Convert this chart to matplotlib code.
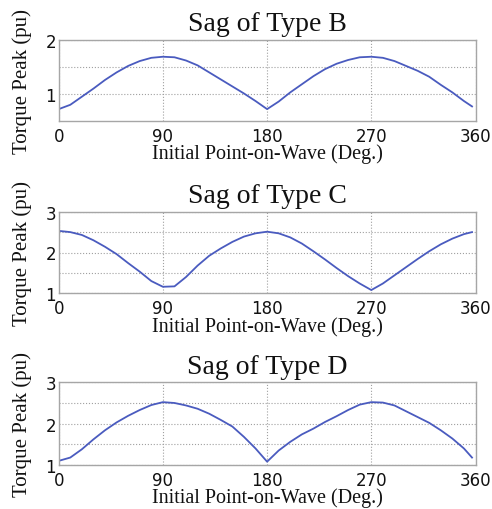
import matplotlib.pyplot as plt

# initial point-on-wave angle (deg) and peak torque (pu) for each sag type
deg = [0, 10, 20, 30, 40, 50, 60, 70, 80, 90, 100, 110, 120, 130, 140, 150, 160, 170, 180,
       190, 200, 210, 220, 230, 240, 250, 260, 270, 280, 290, 300, 310, 320, 330, 340, 350, 357]

peak_b = [0.72, 0.80, 0.95, 1.10, 1.26, 1.40, 1.52, 1.61, 1.67, 1.69, 1.68, 1.62, 1.53, 1.40,
          1.27, 1.14, 1.01, 0.87, 0.72, 0.86, 1.03, 1.18, 1.33, 1.46, 1.56, 1.63, 1.68, 1.69,
          1.67, 1.61, 1.52, 1.43, 1.32, 1.17, 1.03, 0.87, 0.77]

peak_c = [2.53, 2.50, 2.43, 2.30, 2.14, 1.96, 1.74, 1.53, 1.30, 1.16, 1.17, 1.40, 1.68, 1.92,
          2.10, 2.26, 2.39, 2.47, 2.51, 2.47, 2.37, 2.22, 2.03, 1.83, 1.62, 1.42, 1.24, 1.08,
          1.24, 1.44, 1.64, 1.84, 2.03, 2.20, 2.34, 2.45, 2.50]

peak_d = [1.10, 1.18, 1.38, 1.62, 1.84, 2.03, 2.19, 2.33, 2.45, 2.52, 2.50, 2.44, 2.36, 2.24,
          2.09, 1.93, 1.68, 1.40, 1.08, 1.35, 1.56, 1.74, 1.88, 2.04, 2.18, 2.33, 2.46, 2.52,
          2.51, 2.44, 2.30, 2.16, 2.02, 1.84, 1.64, 1.40, 1.18]

titles = ["Sag of Type B", "Sag of Type C", "Sag of Type D"]
series = [peak_b, peak_c, peak_d]
ylims = [(0.5, 2.0), (1.0, 3.0), (1.0, 3.0)]
yticks = [[1, 2], [1, 2, 3], [1, 2, 3]]
ygrid_minor = [[1.5], [1.5, 2.5], [1.5, 2.5]]
xticks = [0, 90, 180, 270, 360]

W, H = 492, 510
# axes boxes in pixels: left, top, right, bottom
boxes = [(58.7, 41.0, 475.5, 122.0),
         (58.7, 212.7, 475.5, 294.3),
         (58.7, 383.3, 475.5, 466.0)]

serif = "Liberation Serif"
sans = "DejaVu Sans"
line_color = "#4a5bbf"
frame_color = "#a6a6a6"
text_color = "#111111"

fig = plt.figure(figsize=(W / 100, H / 100), dpi=100)

for (l, t, r, b), title, vals, yl, yt, ym in zip(boxes, titles, series, ylims, yticks, ygrid_minor):
    ax = fig.add_axes([l / W, 1 - b / H, (r - l) / W, (b - t) / H])
    ax.plot(deg, vals, color=line_color, lw=1.3)
    ax.set_xlim(0, 360)
    ax.set_ylim(*yl)
    ax.set_xticks(xticks)
    ax.set_yticks(yt)
    ax.set_yticks(ym, minor=True)
    ax.grid(True, which="both", color="#a0a0a0", ls=":", lw=0.8)
    ax.tick_params(which="both", direction="in", length=0, colors=text_color)
    ax.tick_params(axis="x", pad=4, labelsize=12)
    ax.tick_params(axis="y", pad=2, labelsize=12)
    for lab in ax.get_xticklabels() + ax.get_yticklabels():
        lab.set_family(sans)
    for sp in ax.spines.values():
        sp.set_color(frame_color)
        sp.set_linewidth(1.0)

    ax.set_title(title, family=serif, fontsize=20, pad=7, color=text_color)
    ax.set_xlabel("Initial Point-on-Wave (Deg.)", family=serif, fontsize=14.5, color=text_color)
    ax.set_ylabel("Torque Peak (pu)", family=serif, fontsize=15, color=text_color)
    ax.xaxis.set_label_coords(0.5, -22.5 / (b - t))
    ax.yaxis.set_label_coords(-27.0 / (r - l), 0.5)

fig.savefig("out.png", dpi=100)
